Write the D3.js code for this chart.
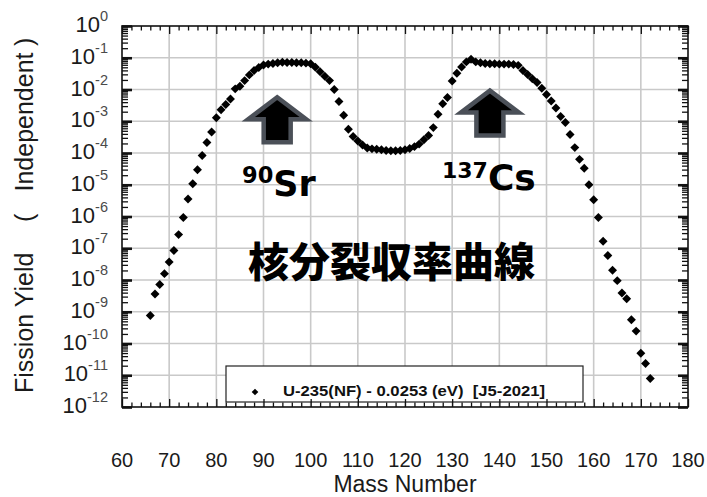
<!DOCTYPE html>
<html>
<head>
<meta charset="utf-8">
<script src="https://cdn.jsdelivr.net/npm/d3@7"></script>
<style>
  html, body { margin: 0; padding: 0; background: #fff; }
  svg { display: block; }
</style>
</head>
<body>
<svg id="chart" width="707" height="497" font-family="'Liberation Sans', Arial, sans-serif"></svg>
<script>
// ---------------- data ----------------
const massNumbers = [
  66,67,68,69,70,71,72,73,74,75,76,77,78,79,80,81,82,83,84,85,
  86,87,88,89,90,91,92,93,94,95,96,97,98,99,100,101,102,103,104,105,
  106,107,108,109,110,111,112,113,114,115,116,117,118,119,120,121,122,123,124,125,
  126,127,128,129,130,131,132,133,134,135,136,137,138,139,140,141,142,143,144,145,
  146,147,148,149,150,151,152,153,154,155,156,157,158,159,160,161,162,163,164,165,
  166,167,168,169,170,171,172
];
// log10 of fission yield
const yieldLog10 = [
  -9.12,-8.44,-8.14,-7.80,-7.43,-7.07,-6.57,-6.03,-5.45,-4.97,-4.53,-4.08,-3.67,-3.34,-2.89,-2.64,-2.47,-2.30,-1.98,-1.90,
  -1.72,-1.54,-1.40,-1.31,-1.23,-1.20,-1.18,-1.16,-1.14,-1.15,-1.15,-1.16,-1.16,-1.17,-1.19,-1.30,-1.44,-1.58,-1.72,-2.00,
  -2.38,-2.81,-3.25,-3.48,-3.62,-3.75,-3.84,-3.87,-3.88,-3.90,-3.92,-3.93,-3.93,-3.92,-3.90,-3.86,-3.80,-3.72,-3.58,-3.45,
  -3.20,-2.78,-2.45,-2.25,-1.73,-1.49,-1.29,-1.13,-1.05,-1.13,-1.16,-1.18,-1.19,-1.19,-1.20,-1.20,-1.20,-1.21,-1.24,-1.40,
  -1.53,-1.66,-1.78,-1.96,-2.16,-2.36,-2.58,-2.85,-3.04,-3.42,-3.83,-4.20,-4.48,-5.00,-5.47,-6.03,-6.78,-7.23,-7.69,-8.02,
  -8.41,-8.59,-9.25,-9.61,-10.31,-10.63,-11.10
];
const xTickLabels = [60,70,80,90,100,110,120,130,140,150,160,170,180];
const yExponents = [0,-1,-2,-3,-4,-5,-6,-7,-8,-9,-10,-11,-12];
const legendLabel = "U-235(NF) - 0.0253 (eV)  [J5-2021]";
const arrowTips = [ {mass: 92.9, logY: -2.15}, {mass: 138.0, logY: -1.94} ];
const xTitle = "Mass Number";
const jpTitle = "核分裂収率曲線";

// ---------------- layout ----------------
const L = 122, R = 688, T = 26, B = 407;
const svg = d3.select("#chart");
const x = d3.scaleLinear().domain([60, 180]).range([L, R]);
const y = d3.scaleLog().domain([1e-12, 1]).range([B, T]);

svg.append("rect").attr("width", 707).attr("height", 497).attr("fill", "#fff");

// grid
const grid = svg.append("g").attr("stroke", "#c9c9c9").attr("stroke-width", 1.6);
grid.selectAll(".gx").data(xTickLabels.slice(1, -1)).join("line")
  .attr("x1", d => x(d)).attr("x2", d => x(d)).attr("y1", T).attr("y2", B);
grid.selectAll(".gy").data(yExponents.slice(1, -1)).join("line")
  .attr("y1", d => y(Math.pow(10, d))).attr("y2", d => y(Math.pow(10, d))).attr("x1", L).attr("x2", R);

// legend box
svg.append("rect").attr("x", 226).attr("y", 366).attr("width", 357).attr("height", 36)
  .attr("fill", "#fff").attr("stroke", "#222").attr("stroke-width", 1.2);

// data points (diamonds)
const pts = massNumbers.map((m, i) => ({m, v: Math.pow(10, yieldLog10[i])}));
const diamond = d3.symbol().type(d3.symbolSquare).size(40);
svg.append("g").selectAll("path").data(pts).join("path")
  .attr("d", diamond)
  .attr("transform", d => `translate(${x(d.m)},${y(d.v)}) rotate(45)`)
  .attr("fill", "#000");

// axes ticks (inward)
const minorX = d3.range(60, 181, 2).filter(v => v % 10 !== 0);
const minorY = [];
for (let e = -12; e < 0; e++) for (let k = 2; k <= 9; k++) minorY.push(k * Math.pow(10, e));
const majorY = yExponents.map(e => Math.pow(10, e));

function styleAxis(g) {
  g.select(".domain").remove();
  g.selectAll("line").attr("stroke", "#111").attr("stroke-width", 1.3);
  g.selectAll("text").remove();
}
svg.append("g").attr("transform", `translate(0,${B})`)
  .call(d3.axisBottom(x).tickValues(xTickLabels).tickSize(-8).tickFormat("")).call(styleAxis);
svg.append("g").attr("transform", `translate(0,${B})`)
  .call(d3.axisBottom(x).tickValues(minorX).tickSize(-4.5).tickFormat("")).call(styleAxis);
svg.append("g").attr("transform", `translate(0,${T})`)
  .call(d3.axisTop(x).tickValues(xTickLabels).tickSize(-8).tickFormat("")).call(styleAxis);
svg.append("g").attr("transform", `translate(0,${T})`)
  .call(d3.axisTop(x).tickValues(minorX).tickSize(-4.5).tickFormat("")).call(styleAxis);
svg.append("g").attr("transform", `translate(${L},0)`)
  .call(d3.axisLeft(y).tickValues(majorY).tickSize(-10).tickFormat("")).call(styleAxis)
  .selectAll("line").attr("stroke-width", 2.6);
svg.append("g").attr("transform", `translate(${L},0)`)
  .call(d3.axisLeft(y).tickValues(minorY).tickSize(-6).tickFormat("")).call(styleAxis);
svg.append("g").attr("transform", `translate(${R},0)`)
  .call(d3.axisRight(y).tickValues(majorY).tickSize(-10).tickFormat("")).call(styleAxis)
  .selectAll("line").attr("stroke-width", 2.6);
svg.append("g").attr("transform", `translate(${R},0)`)
  .call(d3.axisRight(y).tickValues(minorY).tickSize(-6).tickFormat("")).call(styleAxis);

// frame
svg.append("rect").attr("x", L).attr("y", T).attr("width", R - L).attr("height", B - T)
  .attr("fill", "none").attr("stroke", "#111").attr("stroke-width", 1.6);

// y tick labels
const yl = svg.append("g");
yExponents.forEach(e => {
  const t = yl.append("text").attr("x", 108).attr("y", y(Math.pow(10, e)) + 6)
    .attr("text-anchor", "end");
  t.append("tspan").attr("font-size", 22).attr("fill", "#1a1a1a").text("10");
  t.append("tspan").attr("font-size", 14.5).attr("fill", "#4a4a4a").attr("dy", -11).text(String(e));
});

// x tick labels
svg.append("g").selectAll("text").data(xTickLabels).join("text")
  .attr("x", d => x(d)).attr("y", 467).attr("text-anchor", "middle")
  .attr("font-size", 20).attr("fill", "#1a1a1a").text(d => d);

// axis titles
svg.append("text").attr("x", 405).attr("y", 492).attr("text-anchor", "middle")
  .attr("font-size", 23).attr("fill", "#1a1a1a").text(xTitle);

const yt = svg.append("g").attr("transform", "translate(33,0) rotate(-90)")
  .attr("font-size", 25).attr("fill", "#1a1a1a");
yt.append("text").attr("x", -393).attr("y", 0).text("Fission Yield");
yt.append("text").attr("x", -222).attr("y", 0).text("(");
yt.append("text").attr("x", -122).attr("y", 0).attr("text-anchor", "middle").text("Independent");
yt.append("text").attr("x", -46).attr("y", 0).text(")");

// legend content
svg.append("path").attr("d", d3.symbol().type(d3.symbolSquare).size(22))
  .attr("transform", "translate(255,392) rotate(45)").attr("fill", "#000");
svg.append("text").attr("x", 283).attr("y", 396).attr("font-size", 14).attr("font-weight", "bold")
  .attr("fill", "#111").attr("xml:space", "preserve").style("white-space", "pre")
  .attr("textLength", 262).attr("lengthAdjust", "spacingAndGlyphs")
  .text(legendLabel);

// arrows
const arrowShape = "M0,3 L29,25 L13.5,25 L13.5,48 L-13.5,48 L-13.5,25 L-29,25 Z";
svg.append("g").selectAll("path").data(arrowTips).join("path")
  .attr("d", arrowShape)
  .attr("transform", d => `translate(${x(d.mass)},${y(Math.pow(10, d.logY))})`)
  .attr("fill", "#000").attr("stroke", "#4b5058").attr("stroke-width", 4.5)
  .attr("stroke-linejoin", "miter");

// isotope labels
const isoFont = "'DejaVu Sans', sans-serif";
const sr = svg.append("text").attr("x", 242).attr("y", 195.5)
  .attr("font-family", isoFont).attr("font-weight", "bold").attr("fill", "#000");
sr.append("tspan").attr("font-size", 22.5).attr("dy", -12.5).text("90");
sr.append("tspan").attr("font-size", 35).attr("dy", 12.5).text("Sr");
const cs = svg.append("text").attr("x", 442).attr("y", 190)
  .attr("font-family", isoFont).attr("font-weight", "bold").attr("fill", "#000");
cs.append("tspan").attr("font-size", 22).attr("dy", -12).text("137");
cs.append("tspan").attr("font-size", 36).attr("dy", 12).text("Cs");

// Japanese title
svg.append("text").attr("x", 248).attr("y", 277)
  .attr("font-family", "'Noto Sans CJK JP', sans-serif").attr("font-weight", 900)
  .attr("font-size", 41).attr("fill", "#000").text(jpTitle);
</script>
</body>
</html>
